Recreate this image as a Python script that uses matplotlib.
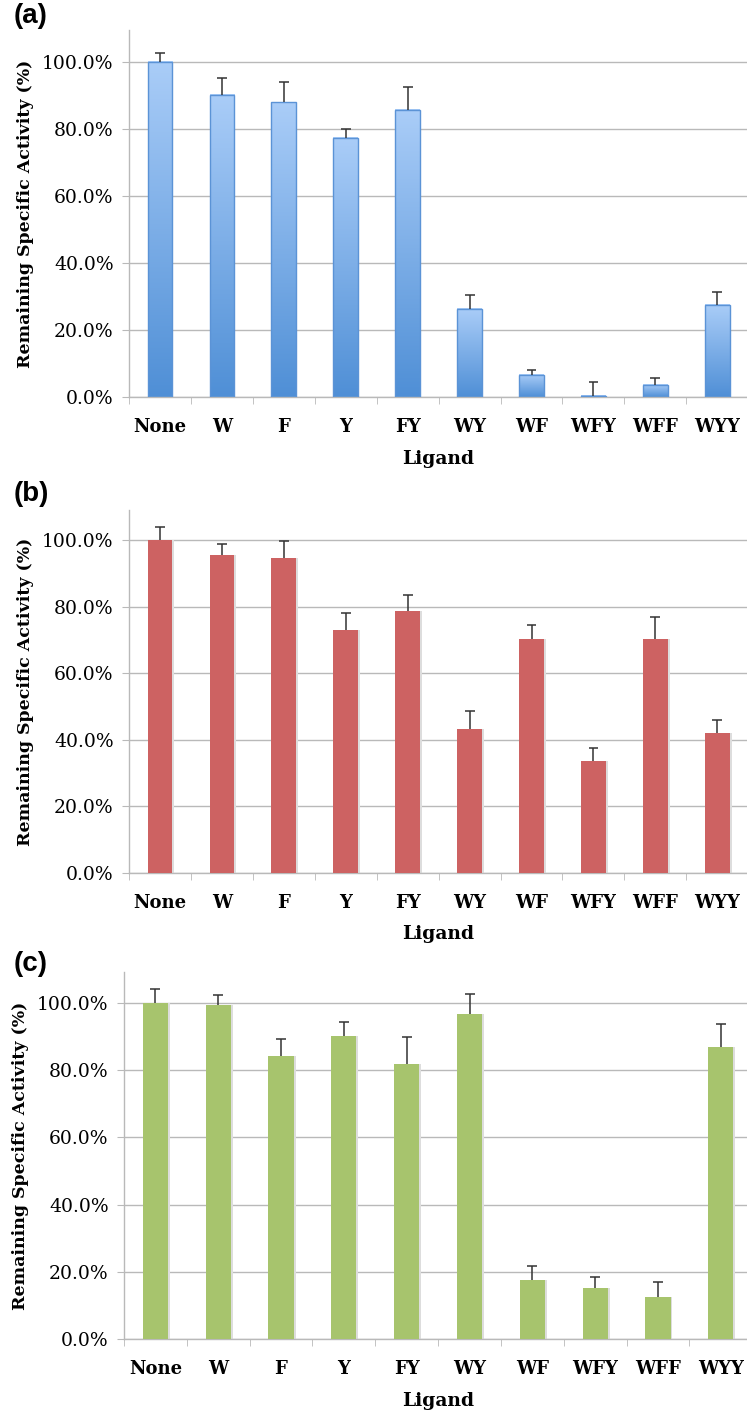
import numpy as np
import matplotlib
matplotlib.use("Agg")
import matplotlib.pyplot as plt
import matplotlib.ticker as ticker
from matplotlib.colors import LinearSegmentedColormap

# ── Data (% remaining specific activity) ─────────────────────────────────────
LIGANDS = ["None", "W", "F", "Y", "FY", "WY", "WF", "WFY", "WFF", "WYY"]

vals_a = [100.0, 90.2, 88.0, 77.4, 85.7, 26.3, 6.7, 0.3, 3.6, 27.6]
err_a  = [2.6, 4.9, 6.1, 2.7, 6.7, 4.2, 1.5, 4.1, 2.0, 3.6]

vals_b = [100.0, 95.6, 94.5, 73.0, 78.8, 43.3, 70.3, 33.6, 70.3, 42.1]
err_b  = [4.0, 3.1, 5.3, 5.1, 4.6, 5.2, 4.3, 3.8, 6.6, 3.7]

vals_c = [100.0, 99.3, 84.2, 90.0, 81.7, 96.7, 17.5, 15.2, 12.6, 86.9]
err_c  = [4.2, 3.1, 5.0, 4.2, 8.1, 6.0, 4.2, 3.1, 4.5, 6.8]

PANELS = ["(a)", "(b)", "(c)"]
BLUE_GRAD = LinearSegmentedColormap.from_list("bluegrad", ["#4f8fd6", "#aacdf8"])
RED   = "#cd6262"
GREEN = "#a7c46d"
GRID  = "#b9b9b9"

SERIF = ["DejaVu Serif"]

# ── Figure ───────────────────────────────────────────────────────────────────
fig = plt.figure(figsize=(7.47, 14.11), dpi=100)

# [left, bottom, width, height, ymax]
boxes = [
    [0.1727, 0.7186, 0.829, 0.2601, 109.5],
    [0.1727, 0.3815, 0.829, 0.2570, 109.0],
    [0.1660, 0.0510, 0.841, 0.2603, 109.2],
]
label_y = [0.998, 0.659, 0.326]

x = np.arange(len(LIGANDS))
width = 0.4


def style_axis(ax, ymax):
    ax.set_xlim(-0.5, len(LIGANDS) - 0.5)
    ax.set_ylim(0, ymax)
    ax.set_yticks(np.arange(0, 101, 20))
    ax.yaxis.set_major_formatter(ticker.PercentFormatter(decimals=1))
    ax.grid(axis="y", color=GRID, linewidth=1.0)
    ax.set_axisbelow(True)
    for s in ["top", "right"]:
        ax.spines[s].set_visible(False)
    for s in ["left", "bottom"]:
        ax.spines[s].set_color(GRID)
        ax.spines[s].set_linewidth(1.0)
    # category labels centred, tick marks between categories
    ax.set_xticks(x)
    ax.set_xticklabels(LIGANDS, fontfamily=SERIF, fontsize=13, fontweight="bold")
    ax.tick_params(axis="x", which="major", length=0, pad=15)
    ax.set_xticks(np.arange(-0.5, len(LIGANDS)), minor=True)
    ax.tick_params(axis="x", which="minor", length=5, color=GRID, direction="out")
    ax.tick_params(axis="y", length=5, color=GRID, pad=6)
    for t in ax.get_yticklabels():
        t.set_fontfamily(SERIF)
        t.set_fontsize(13.5)
    ax.set_ylabel("Remaining Specific Activity (%)", fontfamily=SERIF,
                  fontsize=12.5, fontweight="bold", labelpad=6)
    ax.set_xlabel("Ligand", fontfamily=SERIF, fontsize=13.5,
                  fontweight="bold", labelpad=10)


def draw_errors(ax, vals, errs):
    tops = np.array(vals) + np.array(errs)
    ax.vlines(x, vals, tops, color="#333333", linewidth=1.1, zorder=4)
    ax.hlines(tops, x - 0.08, x + 0.08, color="#333333", linewidth=1.1, zorder=4)


series = [vals_a, vals_b, vals_c]
errors = [err_a, err_b, err_c]

for i, (box, vals, errs) in enumerate(zip(boxes, series, errors)):
    ax = fig.add_axes(box[:4])
    if i == 0:
        # gradient-filled bars
        grad = np.linspace(1, 0, 256).reshape(-1, 1)
        for xi, v in zip(x, vals):
            ax.imshow(grad, extent=[xi - width / 2, xi + width / 2, 0, v],
                      cmap=BLUE_GRAD, aspect="auto", zorder=2)
        ax.bar(x, vals, width, facecolor="none", edgecolor="#5b93d6",
               linewidth=1.0, zorder=3)
    else:
        color = RED if i == 1 else GREEN
        # faint drop shadow
        ax.bar(x + 0.03, vals, width, color="#dddddd", zorder=2)
        ax.bar(x, vals, width, color=color, zorder=3)
    draw_errors(ax, vals, errs)
    style_axis(ax, box[4])
    fig.text(0.018, label_y[i], PANELS[i], fontfamily="Liberation Sans",
             fontsize=20, fontweight="bold", ha="left", va="top")

fig.savefig("out.png", dpi=100)
